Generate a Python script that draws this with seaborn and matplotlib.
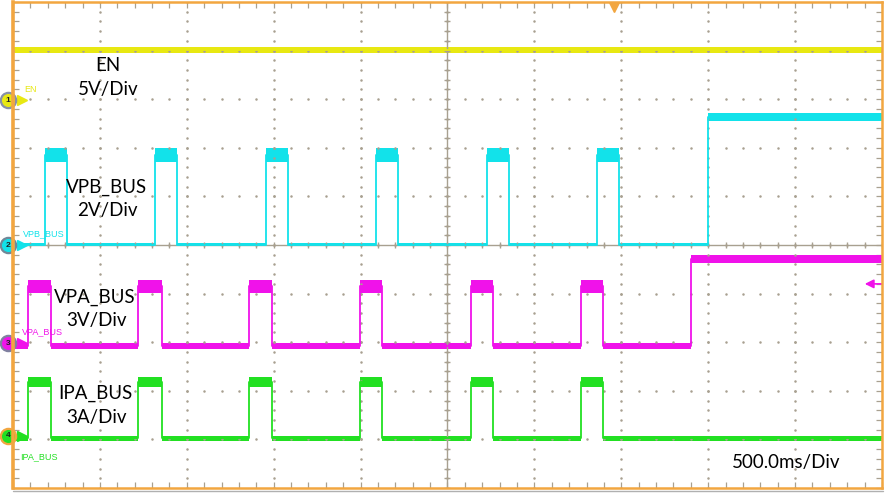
import numpy as np
import matplotlib
matplotlib.use("Agg")
import matplotlib.pyplot as plt
import seaborn as sns

sns.set_theme(style="white")
plt.rcParams['font.family'] = ['Lato', 'DejaVu Sans']

# -----------------------------
# Data, in scope divisions (x: 0..10 div, y: -5..5 div)
# -----------------------------
en_level = 4.01

vpb_low, vpb_high, vpb_final = 0.01, 1.85, 2.63
vpb_rise = [0.365, 1.630, 2.906, 4.177, 5.451, 6.724]
vpb_fall = [0.618, 1.884, 3.159, 4.430, 5.711, 6.977]
vpb_step = 7.994

vpa_low, vpa_high, vpa_final = -2.07, -0.85, -0.29
vpa_rise = [0.169, 1.442, 2.721, 3.993, 5.267, 6.533]
vpa_fall = [0.434, 1.711, 2.980, 4.252, 5.520, 6.793]
vpa_step = 7.802

ipa_low, ipa_high = -3.98, -2.82
ipa_rise = vpa_rise
ipa_fall = vpa_fall

channel_names = ["EN", "VPB_BUS", "VPA_BUS", "IPA_BUS"]
channel_scales = ["5V/Div", "2V/Div", "3V/Div", "3A/Div"]
ground_marks = [2.98, 0.0, -2.02, -3.93]
time_scale = "500.0ms/Div"

YEL, CYA, MAG, GRN = '#E8E812', '#12E2EA', '#F012EA', '#22E022'
ORANGE = '#F2A640'
GRID = '#A8A090'


def waveform(low, high, rises, falls, step=None, final=None, w=(0.05, 0.1, 0.07)):
    # returns x, y and the half thickness of the noise band at each point
    w_low, w_high, w_final = w
    xs, ys, ws = [0.0], [low], [w_low]
    for r, f in zip(rises, falls):
        xs += [r, r, f, f]
        ys += [low, high, high, low]
        ws += [w_low, w_high, w_high, w_low]
    end, w_end = low, w_low
    if step is not None:
        xs += [step, step]
        ys += [low, final]
        ws += [w_low, w_final]
        end, w_end = final, w_final
    xs.append(10.0)
    ys.append(end)
    ws.append(w_end)
    return np.array(xs), np.array(ys), np.array(ws)


fig = plt.figure(figsize=(8.87, 4.94), dpi=100)
ax = fig.add_axes([13/887, 6/494, 869/887, 486/494])
ax.set_xlim(0, 10)
ax.set_ylim(-5, 5)
ax.set_facecolor('white')

# graticule: dotted division lines
sub = np.arange(0, 10.001, 0.2)
for k in range(1, 10):
    ax.plot(sub, np.full_like(sub, k - 5.0), ls='none', marker='.', ms=1.6, color=GRID)
    ax.plot(np.full_like(sub, float(k)), sub - 5.0, ls='none', marker='.', ms=1.6, color=GRID)
ax.axvline(5, color=GRID, lw=1.0)
ax.axhline(0, color=GRID, lw=1.0)
ax.plot(sub, np.zeros_like(sub), ls='none', marker='|', ms=5, mew=1, color=GRID)
ax.plot(np.full_like(sub, 5.0), sub - 5.0, ls='none', marker='_', ms=5, mew=1, color=GRID)

# traces
traces = [
    (waveform(en_level, en_level, [], [], w=(0.06, 0.06, 0.06)), YEL),
    (waveform(vpb_low, vpb_high, vpb_rise, vpb_fall, vpb_step, vpb_final, w=(0.04, 0.15, 0.08)), CYA),
    (waveform(vpa_low, vpa_high, vpa_rise, vpa_fall, vpa_step, vpa_final, w=(0.06, 0.13, 0.08)), MAG),
    (waveform(ipa_low, ipa_high, ipa_rise, ipa_fall, w=(0.06, 0.10, 0.06)), GRN),
]
for (xs, ys, ws), col in traces:
    ax.fill_between(xs, ys - ws, ys + ws, color=col, lw=0)
    sns.lineplot(x=xs, y=ys, estimator=None, sort=False, color=col, lw=1.3, ax=ax)

# big labels
big_pos = [((1.09, 3.69), (1.09, 3.19)), ((1.08, 1.19), (1.09, 0.70)),
           ((0.94, -1.07), (0.96, -1.56)), ((0.95, -3.05), (0.96, -3.54))]
for name, scale, (p1, p2) in zip(channel_names, channel_scales, big_pos):
    ax.text(*p1, name, ha='center', va='center', fontsize=13.5, color='black')
    ax.text(*p2, scale, ha='center', va='center', fontsize=13.5, color='black')
ax.text(8.90, -4.47, time_scale, ha='center', va='center', fontsize=13.5, color='black')

# small channel tags and ground markers
small_pos = [(0.127, 3.20), (0.115, 0.24), (0.104, -1.78), (0.081, -4.36)]
cols = [YEL, CYA, MAG, GRN]
edges = ['#8890A8', '#708898', '#8080A0', ORANGE]
for i, (name, pos, col, ec, gy) in enumerate(zip(channel_names, small_pos, cols, edges, ground_marks)):
    ax.text(*pos, name, ha='left', va='center', fontsize=6.5, color=col,
            family=['Liberation Sans', 'DejaVu Sans'])
    ax.plot(0.10, gy, marker='>', ms=6.5, color=col, mec=col, clip_on=False, zorder=5)
    ax.plot(-0.057, gy, marker='o', ms=11, color=col, mec=ec, mew=1.6, clip_on=False, zorder=6)
    ax.text(-0.057, gy, str(i + 1), ha='center', va='center', fontsize=6, color='#202020',
            fontweight='bold', family=['Liberation Sans', 'DejaVu Sans'], clip_on=False, zorder=7)

# trigger position and level markers
ax.plot(6.913, 4.90, marker='v', ms=7, color=ORANGE, mec=ORANGE, zorder=5)
ax.annotate('', xy=(9.77, -0.80), xytext=(10.03, -0.80),
            arrowprops=dict(arrowstyle='-|>', color=MAG, lw=1.2, mutation_scale=13),
            annotation_clip=False)

# frame with inward ticks
ax.set_xticks(sub)
ax.set_yticks(sub - 5.0)
ax.tick_params(which='major', direction='in', length=4.5, width=0.9, color=GRID,
               top=True, right=True, bottom=True, left=True,
               labelbottom=False, labelleft=False)
for side, sp in ax.spines.items():
    sp.set_color(ORANGE)
    sp.set_linewidth(2.6 if side == 'left' else 1.8)
    sp.set_zorder(8)

fig.add_artist(plt.Line2D([13/887, 883/887], [3.2/494, 3.2/494], color='#B0B0B0', lw=1))

fig.savefig("out.png", dpi=100)
